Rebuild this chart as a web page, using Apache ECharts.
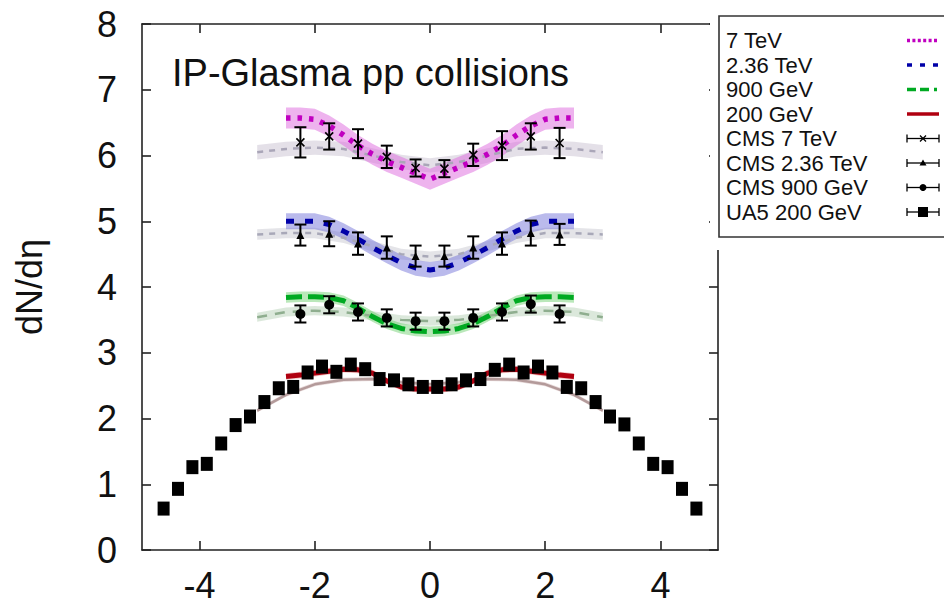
<!DOCTYPE html>
<html><head><meta charset="utf-8">
<script src="https://cdn.jsdelivr.net/npm/echarts@6/dist/echarts.min.js"></script>
<style>html,body{margin:0;padding:0;background:#fff}#c{width:944px;height:607px}</style>
</head><body><div id="c"></div>
<script>
// ---- IP-Glasma theory curves (coloured, with bands) ----
const etaTheory = [-2.5,-2.25,-2,-1.75,-1.5,-1.25,-1,-0.75,-0.5,-0.25,0,0.25,0.5,0.75,1,1.25,1.5,1.75,2,2.25,2.5];
const th7TeV   = [6.57,6.57,6.55,6.45,6.31,6.15,6.02,5.91,5.82,5.73,5.64,5.73,5.82,5.91,6.02,6.15,6.31,6.45,6.55,6.57,6.57];
const th236TeV = [5.00,5.00,5.00,4.95,4.85,4.73,4.60,4.48,4.37,4.29,4.26,4.29,4.37,4.48,4.60,4.73,4.85,4.95,5.00,5.00,5.00];
const th900GeV = [3.84,3.85,3.85,3.84,3.79,3.68,3.55,3.44,3.37,3.33,3.32,3.33,3.37,3.44,3.55,3.68,3.79,3.84,3.85,3.85,3.84];
const th200GeV = [2.64,2.66,2.69,2.72,2.75,2.74,2.69,2.57,2.48,2.45,2.45,2.45,2.48,2.57,2.69,2.74,2.75,2.72,2.69,2.66,2.64];
const band7TeV = 0.16, band236TeV = 0.12, band900GeV = 0.08, band200GeV = 0.05;

// ---- grey reference curves (with light bands) ----
const etaGray   = [-3,-2.5,-2,-1.5,-1,-0.5,0,0.5,1,1.5,2,2.5,3];
const gray7TeV   = [6.05,6.10,6.12,6.10,6.00,5.90,5.85,5.90,6.00,6.10,6.12,6.10,6.05];
const gray236TeV = [4.80,4.82,4.82,4.75,4.62,4.50,4.46,4.50,4.62,4.75,4.82,4.82,4.80];
const gray900GeV = [3.54,3.62,3.64,3.62,3.56,3.50,3.48,3.50,3.56,3.62,3.64,3.62,3.54];
const gray200GeV = [2.12,2.36,2.52,2.59,2.60,2.55,2.52,2.55,2.60,2.59,2.52,2.36,2.12];
const grayBand7TeV = 0.11, grayBand236TeV = 0.08, grayBand900GeV = 0.07, grayBand200GeV = 0.03;

// ---- data points ----
const etaCMS  = [-2.25,-1.75,-1.25,-0.75,-0.25,0.25,0.75,1.25,1.75,2.25];
const cms7TeV   = [6.20,6.29,6.18,5.98,5.81,5.80,6.01,6.15,6.29,6.19];
const err7TeV   = [0.23,0.20,0.22,0.17,0.13,0.13,0.17,0.22,0.20,0.23];
const cms236TeV = [4.79,4.81,4.66,4.60,4.47,4.47,4.60,4.66,4.82,4.80];
const err236TeV = [0.16,0.19,0.17,0.17,0.16,0.16,0.17,0.17,0.19,0.16];
const cms900GeV = [3.59,3.73,3.62,3.53,3.48,3.48,3.53,3.62,3.74,3.59];
const err900GeV = [0.13,0.13,0.13,0.13,0.13,0.13,0.13,0.13,0.13,0.13];

const etaUA5 = [-4.625,-4.375,-4.125,-3.875,-3.625,-3.375,-3.125,-2.875,-2.625,-2.375,-2.125,-1.875,-1.625,-1.375,-1.125,-0.875,-0.625,-0.375,-0.125,
                0.125,0.375,0.625,0.875,1.125,1.375,1.625,1.875,2.125,2.375,2.625,2.875,3.125,3.375,3.625,3.875,4.125,4.375,4.625];
const ua5200GeV = [0.63,0.93,1.26,1.31,1.62,1.90,2.03,2.25,2.46,2.48,2.70,2.79,2.71,2.82,2.75,2.60,2.58,2.52,2.48,
                   2.48,2.52,2.58,2.60,2.74,2.82,2.70,2.79,2.70,2.48,2.46,2.25,2.03,1.91,1.62,1.31,1.26,0.93,0.63];

const xTicks = [-4,-2,0,2,4];
const legendLabels = ['7 TeV','2.36 TeV','900 GeV','200 GeV','CMS 7 TeV','CMS 2.36 TeV','CMS 900 GeV','UA5 200 GeV'];
const titleText = 'IP-Glasma pp collisions';

const FONT = '"Liberation Sans", Arial, Helvetica, sans-serif';
const pair = (xs, ys) => xs.map((x, i) => [x, ys[i]]);

function bandSeries(name, xs, ys, half, color) {
  return {
    name, type: 'custom', coordinateSystem: 'cartesian2d', silent: true,
    data: pair(xs, ys), encode: {x: 0, y: 1},
    renderItem: (params, api) => {
      if (params.dataIndex !== 0) return null;
      const up = xs.map((x, i) => api.coord([x, ys[i] + half]));
      const dn = xs.map((x, i) => api.coord([x, ys[i] - half])).reverse();
      return {type: 'polygon', shape: {points: up.concat(dn)}, style: {fill: color}};
    }
  };
}
function lineSeries(name, xs, ys, color, width, dash) {
  return {
    name, type: 'line', data: pair(xs, ys), symbol: 'none', showSymbol: false, silent: true,
    lineStyle: {color, width, type: dash || 'solid', cap: 'butt'}, z: 3
  };
}
function errSeries(name, xs, ys, es) {
  return {
    name, type: 'custom', coordinateSystem: 'cartesian2d', silent: true, z: 4,
    data: xs.map((x, i) => [x, ys[i], es[i]]), encode: {x: 0, y: 1},
    renderItem: (params, api) => {
      const x = api.value(0), y = api.value(1), e = api.value(2);
      const lo = api.coord([x, y - e]), hi = api.coord([x, y + e]);
      const w = 6, st = {stroke: '#000', lineWidth: 2};
      return {type: 'group', children: [
        {type: 'line', shape: {x1: lo[0], y1: lo[1], x2: hi[0], y2: hi[1]}, style: st},
        {type: 'line', shape: {x1: lo[0] - w, y1: lo[1], x2: lo[0] + w, y2: lo[1]}, style: st},
        {type: 'line', shape: {x1: hi[0] - w, y1: hi[1], x2: hi[0] + w, y2: hi[1]}, style: st}
      ]};
    }
  };
}
function markSeries(name, xs, ys, symbol, size, style) {
  return {name, type: 'scatter', data: pair(xs, ys), symbol, symbolSize: size, silent: true, z: 5,
          itemStyle: Object.assign({color: '#000', opacity: 1}, style || {})};
}

const chart = echarts.init(document.getElementById('c'), null, {renderer: 'svg'});

const axisLineStyle = {color: '#222', width: 1.6};
const tickStyle = {color: '#222', width: 1.6};

// legend (drawn as graphic: text on the left, sample on the right)
const rowY = [40.5, 65, 89.5, 114, 138.5, 163, 187.5, 212];
const sx1 = 907, sx2 = 939, scx = 923;
const legendEls = [
  {type: 'rect', shape: {x: 710, y: 0, width: 240, height: 250}, style: {fill: '#fff'}, z: 100},
  {type: 'rect', shape: {x: 719, y: 16, width: 240, height: 221}, style: {fill: '#fff', stroke: '#333', lineWidth: 1.6}, z: 101},
  {type: 'text', x: 172, y: 73, style: {text: titleText, font: '38px ' + FONT, fill: '#111', textAlign: 'left', textVerticalAlign: 'middle', align: 'left', verticalAlign: 'middle'}, z: 90}
];
legendLabels.forEach((t, i) => {
  legendEls.push({type: 'text', x: 726, y: rowY[i], z: 102,
    style: {text: t, font: '22px ' + FONT, fill: '#111', textAlign: 'left', textVerticalAlign: 'middle', align: 'left', verticalAlign: 'middle'}});
});
const sampleLine = (i, color, w, dash) => ({type: 'line', z: 102,
  shape: {x1: sx1, y1: rowY[i], x2: sx2, y2: rowY[i]}, style: {stroke: color, lineWidth: w, lineDash: dash || null}});
legendEls.push(sampleLine(0, '#c000c0', 3.5, [3, 2.4]));
legendEls.push(sampleLine(1, '#0000a8', 3.5, [5, 8]));
legendEls.push(sampleLine(2, '#00aa22', 3.5, [9, 4, 9, 5, 3, 30]));
legendEls.push(sampleLine(3, '#b00010', 3.5));
for (let i = 4; i < 8; i++) {
  const st = {stroke: '#000', lineWidth: 1.3};
  legendEls.push({type: 'line', z: 102, shape: {x1: sx1, y1: rowY[i], x2: sx2, y2: rowY[i]}, style: st});
  legendEls.push({type: 'line', z: 102, shape: {x1: sx1, y1: rowY[i] - 4, x2: sx1, y2: rowY[i] + 4}, style: st});
  legendEls.push({type: 'line', z: 102, shape: {x1: sx2, y1: rowY[i] - 4, x2: sx2, y2: rowY[i] + 4}, style: st});
}
legendEls.push({type: 'group', z: 103, children: [
  {type: 'line', shape: {x1: scx - 3, y1: rowY[4] - 3, x2: scx + 3, y2: rowY[4] + 3}, style: {stroke: '#000', lineWidth: 1.2}, z: 103},
  {type: 'line', shape: {x1: scx - 3, y1: rowY[4] + 3, x2: scx + 3, y2: rowY[4] - 3}, style: {stroke: '#000', lineWidth: 1.2}, z: 103}
]});
legendEls.push({type: 'polygon', z: 103, shape: {points: [[scx, rowY[5] - 3.5], [scx - 3.5, rowY[5] + 2.5], [scx + 3.5, rowY[5] + 2.5]]}, style: {fill: '#000'}});
legendEls.push({type: 'circle', z: 103, shape: {cx: scx, cy: rowY[6], r: 3.5}, style: {fill: '#000'}});
legendEls.push({type: 'rect', z: 103, shape: {x: scx - 5, y: rowY[7] - 5, width: 10, height: 10}, style: {fill: '#000'}});

const option = {
  animation: false,
  backgroundColor: '#fff',
  grid: {left: 142, right: 226, top: 24, bottom: 57, show: false, outerBoundsMode: 'none'},
  xAxis: [
    {type: 'value', min: -5, max: 5, position: 'bottom',
     axisLine: {show: true, onZero: false, lineStyle: axisLineStyle},
     axisTick: {show: true, inside: true, length: 9, customValues: xTicks, lineStyle: tickStyle},
     axisLabel: {show: true, customValues: xTicks, fontSize: 36, fontFamily: FONT, color: '#111', margin: 17},
     splitLine: {show: false}},
    {type: 'value', min: -5, max: 5, position: 'top',
     axisLine: {show: true, onZero: false, lineStyle: axisLineStyle},
     axisTick: {show: true, inside: true, length: 9, customValues: xTicks, lineStyle: tickStyle},
     axisLabel: {show: false}, splitLine: {show: false}}
  ],
  yAxis: [
    {type: 'value', min: 0, max: 8, interval: 1, position: 'left',
     name: 'dN/dη', nameLocation: 'middle', nameGap: 95, nameRotate: 90,
     nameTextStyle: {fontSize: 36, fontFamily: FONT, color: '#111'},
     axisLine: {show: true, onZero: false, lineStyle: axisLineStyle},
     axisTick: {show: true, inside: true, length: 9, lineStyle: tickStyle},
     axisLabel: {fontSize: 36, fontFamily: FONT, color: '#111', margin: 25},
     splitLine: {show: false}},
    {type: 'value', min: 0, max: 8, interval: 1, position: 'right',
     axisLine: {show: true, onZero: false, lineStyle: axisLineStyle},
     axisTick: {show: true, inside: true, length: 9, lineStyle: tickStyle},
     axisLabel: {show: false}, splitLine: {show: false}}
  ],
  graphic: {elements: legendEls},
  series: [
    bandSeries('grey band 7 TeV', etaGray, gray7TeV, grayBand7TeV, 'rgba(190,180,200,0.42)'),
    bandSeries('grey band 2.36 TeV', etaGray, gray236TeV, grayBand236TeV, 'rgba(190,190,200,0.42)'),
    bandSeries('grey band 900 GeV', etaGray, gray900GeV, grayBand900GeV, 'rgba(170,200,170,0.42)'),
    bandSeries('grey band 200 GeV', etaGray, gray200GeV, grayBand200GeV, 'rgba(190,150,150,0.35)'),
    lineSeries('grey 7 TeV', etaGray, gray7TeV, '#aaa6b8', 2.5, [6, 6]),
    lineSeries('grey 2.36 TeV', etaGray, gray236TeV, '#a8a8b8', 2.5, [6, 6]),
    lineSeries('grey 900 GeV', etaGray, gray900GeV, '#8fae8f', 2.5, [10, 8]),
    lineSeries('grey 200 GeV', etaGray, gray200GeV, '#b39a9a', 2.5),
    bandSeries('band 7 TeV', etaTheory, th7TeV, band7TeV, 'rgba(222,110,222,0.52)'),
    bandSeries('band 2.36 TeV', etaTheory, th236TeV, band236TeV, 'rgba(110,110,215,0.48)'),
    bandSeries('band 900 GeV', etaTheory, th900GeV, band900GeV, 'rgba(90,200,90,0.42)'),
    bandSeries('band 200 GeV', etaTheory, th200GeV, band200GeV, 'rgba(200,60,60,0.3)'),
    lineSeries('7 TeV', etaTheory, th7TeV, '#c000c0', 5.5, [4.5, 7]),
    lineSeries('2.36 TeV', etaTheory, th236TeV, '#0000a8', 5, [8, 11]),
    lineSeries('900 GeV', etaTheory, th900GeV, '#00aa22', 5, [16, 6]),
    lineSeries('200 GeV', etaTheory, th200GeV, '#b00010', 5),
    errSeries('CMS 7 TeV err', etaCMS, cms7TeV, err7TeV),
    errSeries('CMS 2.36 TeV err', etaCMS, cms236TeV, err236TeV),
    errSeries('CMS 900 GeV err', etaCMS, cms900GeV, err900GeV),
    markSeries('CMS 7 TeV', etaCMS, cms7TeV, 'path://M0,0L10,10M10,0L0,10', 8, {color: 'rgba(0,0,0,0)', borderColor: '#000', borderWidth: 1.6}),
    markSeries('CMS 2.36 TeV', etaCMS, cms236TeV, 'triangle', 8),
    markSeries('CMS 900 GeV', etaCMS, cms900GeV, 'circle', 10),
    markSeries('UA5 200 GeV', etaUA5, ua5200GeV, 'rect', [12, 14])
  ]
};
chart.setOption(option);
</script>
</body></html>
